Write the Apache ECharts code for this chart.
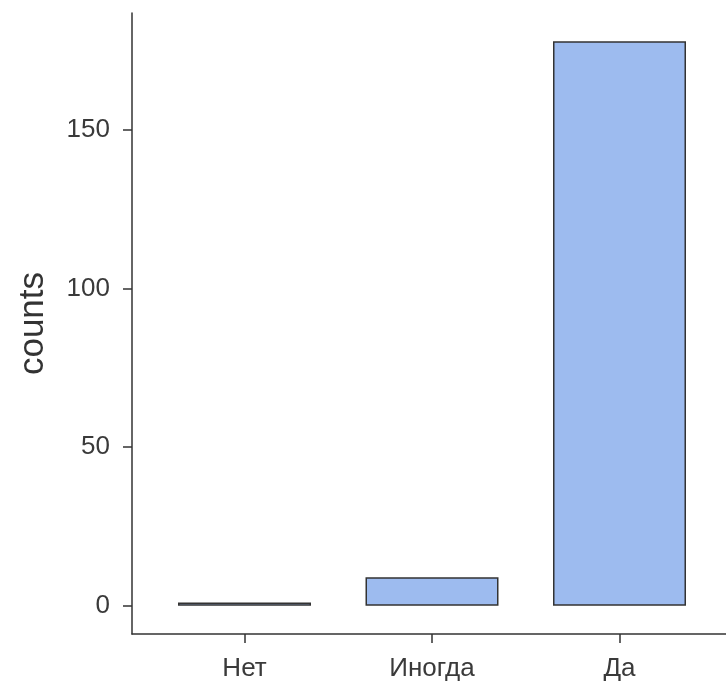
<!DOCTYPE html>
<html><head><meta charset="utf-8">
<script src="https://cdn.jsdelivr.net/npm/echarts@6/dist/echarts.min.js"></script>
<style>html,body{margin:0;padding:0;background:#fff}#c{width:726px;height:681px}</style>
</head><body><div id="c"></div>
<script>
const categories = ["Нет", "Иногда", "Да"];
const counts = [1, 9, 178];
const yTicks = [0, 50, 100, 150];

const chart = echarts.init(document.getElementById('c'), null, {renderer: 'canvas'});
const font = 'Liberation Sans, Arial, sans-serif';
chart.setOption({
  animation: false,
  backgroundColor: '#fff',
  grid: {left: 132, top: 13, right: 0, height: 621, outerBoundsMode: 'none', containLabel: false},
  xAxis: {
    type: 'value', min: -0.6, max: 2.568,
    splitLine: {show: false},
    axisLine: {show: true, onZero: false, lineStyle: {color: '#333', width: 1.5}},
    axisTick: {show: true, length: 9, customValues: [0, 1, 2], lineStyle: {color: '#333', width: 1.5}},
    axisLabel: {customValues: [0, 1, 2], formatter: v => categories[Math.round(v)] || '', fontSize: 26, color: '#3a3a3a', fontFamily: font, margin: 22}
  },
  yAxis: {
    type: 'value', min: -8.9, max: 186.9,
    name: 'counts', nameLocation: 'middle', nameGap: 81,
    nameTextStyle: {fontSize: 35, color: '#333', fontFamily: font},
    splitLine: {show: false},
    axisLine: {show: true, onZero: false, lineStyle: {color: '#333', width: 1.5}},
    axisTick: {show: true, length: 9, customValues: yTicks, lineStyle: {color: '#333', width: 1.5}},
    axisLabel: {customValues: yTicks, fontSize: 26, color: '#3a3a3a', fontFamily: font, margin: 22}
  },
  series: [{
    type: 'bar',
    data: counts.map((v, i) => [i, v]),
    barWidth: 133,
    itemStyle: {color: '#9dbbef', borderColor: '#333', borderWidth: 1.5}
  }]
});
</script></body></html>
